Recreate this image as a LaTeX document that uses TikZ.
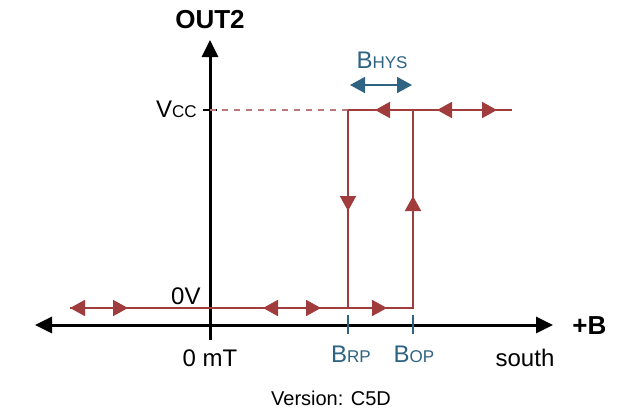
\documentclass[tikz,border=0pt]{standalone}
\usepackage{fontspec}
\setmainfont{Liberation Sans}
\usetikzlibrary{arrows.meta}
\definecolor{hred}{HTML}{A03C3C}
\definecolor{hteal}{HTML}{2E6382}
\newcommand{\sbs}[1]{{\fontsize{8.5}{10}\selectfont #1}}

\begin{document}
\begin{tikzpicture}[x=0.5pt,y=-0.5pt,font=\fontsize{12}{14}\selectfont,
  axis/.style={line width=1.5pt,-{Triangle[length=8.5pt,width=8pt]}},
  loop/.style={hred,line width=0.9pt},
  tip/.style={hred,line width=0.9pt,-{Triangle[length=7.5pt,width=8pt]}},
  tips/.style={hred,line width=0.9pt,{Triangle[length=7.5pt,width=8pt]}-{Triangle[length=7.5pt,width=8pt]}},
  tickmark/.style={hteal,line width=0.8pt},
  lbl/.style={anchor=base,inner sep=0pt}]

\useasboundingbox (0,0) rectangle (633,419);

% axes
\coordinate (xl) at (35,325);
\coordinate (xr) at (553,325);
\coordinate (yb) at (210,340);
\coordinate (yt) at (210,40);
\draw[axis] (yb) -- (yt);
\draw[line width=1.5pt,{Triangle[length=8.5pt,width=8pt]}-{Triangle[length=8.5pt,width=8pt]}] (xl) -- (xr);
\node[font=\bfseries\fontsize{13}{15}\selectfont] (out) at (210,20) {OUT2};
\node[font=\bfseries\fontsize{13}{15}\selectfont,anchor=west,inner sep=0pt] (bplus) at (572,326) {+B};

% levels on the y axis
\coordinate (vcc) at (210,110);
\coordinate (zero) at (210,308);
\draw[line width=1pt] (203,110) -- (217,110);
\draw[line width=1pt] (203,308) -- (217,308);
\node[anchor=base east,inner sep=0pt] (lvcc) at (197,117) {V\sbs{CC}};
\node[anchor=base east,inner sep=0pt] (lzero) at (201,304) {0V};
\node[lbl] (lmt) at (210,366) {0 mT};

% switch points
\coordinate (rp) at (348,308);
\coordinate (op) at (413,308);
\coordinate (rpt) at (348,110);
\coordinate (opt) at (413,110);
\draw[hred!70,line width=0.7pt,dashed] (vcc) -- (rpt);
\draw[loop] (70,308) -- (op) -- (opt);
\draw[loop] (rpt) -- (rp);
\draw[loop] (rpt) -- (512,110);

% direction marks
\draw[tips] (70,308) -- (128,308);
\draw[tips] (263,308) -- (321,308);
\draw[tip] (370,308) -- (387,308);
\draw[tip] (395,110) -- (375,110);
\draw[tips] (437,110) -- (497,110);
\draw[tip] (348,190) -- (348,211);
\draw[tip] (413,217) -- (413,196);

% hysteresis
\draw[hteal,line width=0.8pt,{Triangle[length=7.5pt,width=8pt]}-{Triangle[length=7.5pt,width=8pt]}] (350,85) -- (412,85);
\node[lbl,hteal] (hys) at (382,68) {B\sbs{HYS}};

% ticks and labels below the axis
\draw[tickmark] (348,315) -- (348,334);
\draw[tickmark] (413,315) -- (413,334);
\node[lbl,hteal] (brp) at (351,362) {B\sbs{RP}};
\node[lbl,hteal] (bop) at (414,362) {B\sbs{OP}};
\node[lbl] (south) at (525,366) {south};

\node[lbl,font=\fontsize{10}{12}\selectfont] (ver) at (331,405) {Version: C5D};

\end{tikzpicture}
\end{document}
